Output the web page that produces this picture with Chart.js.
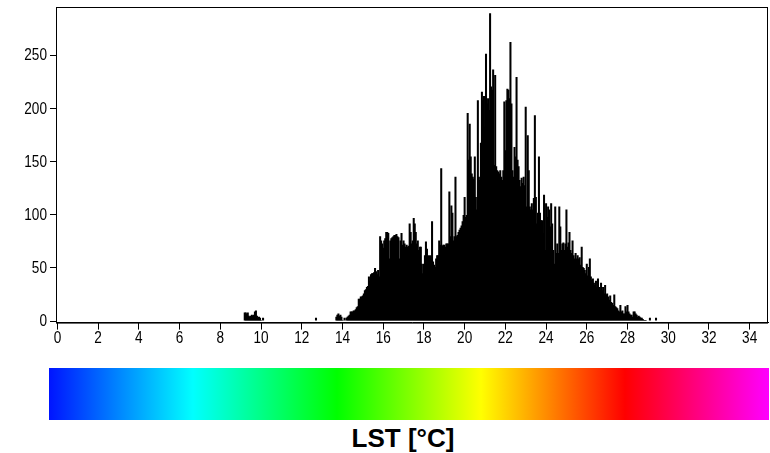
<!DOCTYPE html>
<html>
<head>
<meta charset="utf-8">
<script src="https://cdn.jsdelivr.net/npm/chart.js@4.4.1/dist/chart.umd.min.js"></script>
<style>
  html, body { margin: 0; padding: 0; background: #fff; }
  #wrap { position: relative; width: 770px; height: 453px; overflow: hidden; }
  #histo { position: absolute; left: 0; top: 0; }
  #colorbar {
    position: absolute; left: 49px; top: 368px; width: 720px; height: 52px;
    background: linear-gradient(to right, #0014ff 0%, #00ffff 20%, #00ff00 40%, #ffff00 60%, #ff0000 80%, #ff00ff 100%);
  }
  #unit {
    position: absolute; left: 0; top: 423px; width: 806px; text-align: center;
    font: bold 26px "Liberation Sans", Arial, sans-serif; color: #000;
  }
</style>
</head>
<body>
<div id="wrap">
  <canvas id="histo" width="770" height="365"></canvas>
  <div id="colorbar"></div>
  <div id="unit">LST [°C]</div>
</div>
<script>
// histogram of land surface temperature, 0.05 °C bins
const binWidth = 0.05;
const mainStart = 13.65;
const mainCounts = [
  0, 4, 6, 7, 5, 6, 4, 1, 0, 3, 0, 3, 4,
  5, 6, 9, 9, 9, 10, 10, 11, 13, 14,
  21, 21, 23, 23, 24, 26, 29, 30, 32, 33,
  42, 38, 44, 45, 45, 46, 50, 47, 44, 48, 42,
  80, 76, 73, 69, 76, 78, 84, 84, 83, 59,
  76, 78, 79, 80, 81, 81, 82, 80, 79, 59,
  76, 83, 72, 76, 73, 70, 72, 70, 71, 92,
  84, 73, 76, 97, 92, 84, 73, 76, 67, 70,
  70, 54, 45, 54, 62, 75, 68, 61, 62, 59,
  62, 94, 56, 53, 51, 59, 62, 62, 76, 72,
  144, 71, 72, 72, 70, 73, 73, 73, 122, 80,
  109, 102, 76, 80, 136, 80, 81, 84, 86, 88,
  90, 94, 100, 117, 98, 100, 196, 152, 186, 155,
  139, 136, 134, 155, 117, 105, 208, 136, 133, 168,
  216, 208, 212, 183, 252, 205, 210, 199, 290, 221,
  218, 237, 147, 232, 146, 142, 141, 139, 142, 136,
  133, 142, 207, 161, 208, 219, 218, 210, 263, 205,
  142, 136, 164, 155, 230, 152, 146, 133, 127, 135,
  130, 136, 128, 202, 108, 175, 142, 108, 105, 111,
  105, 116, 194, 117, 92, 102, 155, 102, 95, 95,
  83, 119, 67, 111, 98, 108, 105, 89, 111, 92,
  67, 54, 108, 64, 73, 64, 108, 89, 67, 73,
  74, 67, 73, 105, 70, 74, 84, 67, 64, 76,
  62, 59, 64, 59, 62, 59, 60, 53, 70, 51,
  50, 48, 45, 54, 43, 51, 59, 42, 39, 40,
  36, 34, 38, 32, 40, 32, 29, 36, 29, 32,
  26, 34, 25, 26, 23, 20, 24, 18, 17, 15,
  25, 14, 13, 12, 10, 9, 15, 9, 10, 7,
  7, 14, 9, 15, 9, 7, 6, 6, 4, 9,
  9, 7, 6, 4, 5, 4, 3, 3, 2, 1,
  1, 1, 0, 0, 0, 3, 0, 0, 0, 0, 0, 3
];

// isolated cold pixels below the main distribution
const coldTemps = [9.20, 9.25, 9.30, 9.35, 9.40, 9.45, 9.50, 9.55, 9.60, 9.65,
                   9.70, 9.75, 9.80, 9.85, 9.90, 9.95, 10.00, 10.05, 10.10, 12.70];
const coldCounts = [8, 8, 7, 8, 5, 4, 5, 6, 5, 6, 9, 10, 5, 3, 4, 3, 1, 0, 3, 3];

const xTicks = [0, 2, 4, 6, 8, 10, 12, 14, 16, 18, 20, 22, 24, 26, 28, 30, 32, 34];
const yTicks = [0, 50, 100, 150, 200, 250];

const points = coldTemps.map((t, i) => ({ x: t, y: coldCounts[i] }))
  .concat(mainCounts.map((c, i) => ({ x: +(mainStart + i * binWidth).toFixed(2), y: c })));

// box around the plot area
const frame = {
  id: 'frame',
  afterDraw(chart) {
    const { ctx, chartArea: a } = chart;
    ctx.save();
    ctx.strokeStyle = '#000';
    ctx.lineWidth = 1;
    ctx.strokeRect(a.left + 0.5, a.top + 0.5, a.right - a.left - 1, a.bottom - a.top);
    ctx.restore();
  }
};

// tick labels in a narrow face (squeezed horizontally)
const narrowLabels = {
  id: 'narrowLabels',
  afterDraw(chart) {
    const { ctx, scales: { x, y } } = chart;
    const squeeze = 0.8;
    ctx.save();
    ctx.fillStyle = '#000';
    ctx.font = '17px "Liberation Sans", Arial, sans-serif';
    ctx.textBaseline = 'middle';
    const put = (txt, px, py, align) => {
      ctx.save();
      ctx.translate(px, py);
      ctx.scale(squeeze, 1);
      ctx.textAlign = align;
      ctx.fillText(txt, 0, 0);
      ctx.restore();
    };
    x.ticks.forEach(t => put(String(t.value), x.getPixelForValue(t.value), 338, 'center'));
    y.ticks.forEach(t => put(String(t.value), 47, y.getPixelForValue(t.value), 'right'));
    ctx.restore();
  }
};

new Chart(document.getElementById('histo'), {
  type: 'bar',
  data: {
    datasets: [{
      data: points,
      backgroundColor: '#000',
      borderWidth: 0,
      barPercentage: 2,
      categoryPercentage: 1
    }]
  },
  options: {
    responsive: false,
    animation: false,
    devicePixelRatio: 1,
    layout: { padding: { top: 7, right: 2, left: 0, bottom: 0 } },
    plugins: { legend: { display: false }, tooltip: { enabled: false } },
    scales: {
      x: {
        type: 'linear',
        offset: false,
        min: -0.07,
        max: 34.9,
        afterBuildTicks: s => { s.ticks = xTicks.map(v => ({ value: v })); },
        afterFit: s => { s.height = 365 - 322.6; },
        ticks: { display: false },
        grid: { offset: false, drawOnChartArea: false, tickLength: 7, color: '#000' },
        border: { color: '#000' }
      },
      y: {
        min: -1.5,
        max: 296,
        afterBuildTicks: s => { s.ticks = yTicks.map(v => ({ value: v })); },
        afterFit: s => { s.width = 56; },
        ticks: { display: false },
        grid: { drawOnChartArea: false, tickLength: 6, color: '#000' },
        border: { color: '#000' }
      }
    }
  },
  plugins: [frame, narrowLabels]
});
</script>
</body>
</html>
